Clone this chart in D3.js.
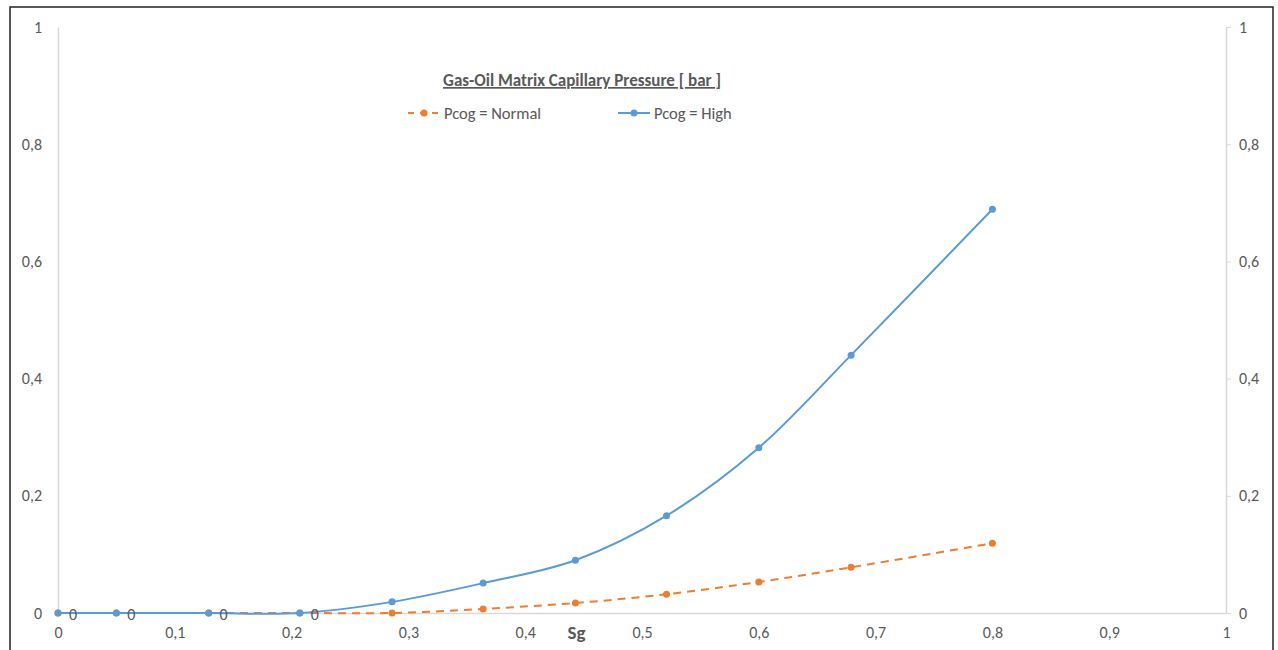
<!DOCTYPE html>
<html>
<head>
<meta charset="utf-8">
<script src="https://cdn.jsdelivr.net/npm/d3@7"></script>
<style>
  body { margin: 0; background: #fff; }
  text { font-family: Calibri, Carlito, 'Open Sans', sans-serif; fill: #595959; }
</style>
</head>
<body>
<div id="chart"></div>
<script>
// data
let sgValues = [0, 0.05, 0.129, 0.207, 0.286, 0.364, 0.443, 0.521, 0.6, 0.679, 0.8];
let pcogNormal = [0, 0, 0, 0, 0, 0.007, 0.017, 0.032, 0.053, 0.078, 0.119];
let pcogHigh = [0, 0, 0, 0, 0.019, 0.051, 0.090, 0.166, 0.282, 0.440, 0.689];
let xTicks = [0, 0.1, 0.2, 0.3, 0.4, 0.5, 0.6, 0.7, 0.8, 0.9, 1];
let yTicks = [0, 0.2, 0.4, 0.6, 0.8, 1];
let labelCount = 4; // first points carry a "0" data label

let svgWidth = 1278;
let svgHeight = 650;

// plot area
let margin = { top: 27, right: 52, bottom: 37, left: 58 };
let width = svgWidth - margin.left - margin.right;
let height = svgHeight - margin.top - margin.bottom;

let svg = d3.select('#chart').append('svg')
  .attr('width', svgWidth)
  .attr('height', svgHeight);

// outer frame
svg.append('rect')
  .attr('x', 10).attr('y', 7)
  .attr('width', 1263).attr('height', 700)
  .attr('fill', 'none')
  .attr('stroke', '#222')
  .attr('stroke-width', 1.5);

let chartGroup = svg.append('g')
  .attr('transform', `translate(${margin.left}, ${margin.top})`);

let xScale = d3.scaleLinear().domain([0, 1]).range([0, width]);
let yScale = d3.scaleLinear().domain([0, 1]).range([height, 0]);

let fmt = d => String(d).replace('.', ',');

// left axis: line only
let leftAxis = chartGroup.append('g')
  .call(d3.axisLeft(yScale).tickValues(yTicks).tickSize(0).tickPadding(16).tickFormat(fmt));
leftAxis.select('.domain').attr('stroke', '#d9d9d9').attr('stroke-width', 1.5);
leftAxis.selectAll('text').attr('font-size', 16).attr('fill', '#595959');

// right axis with outer ticks
let rightAxis = chartGroup.append('g')
  .attr('transform', `translate(${width}, 0)`)
  .call(d3.axisRight(yScale).tickValues(yTicks).tickSizeInner(5).tickSizeOuter(0).tickPadding(8).tickFormat(fmt));
rightAxis.select('.domain').attr('stroke', '#d9d9d9').attr('stroke-width', 1.5);
rightAxis.selectAll('line').attr('stroke', '#d9d9d9');
rightAxis.selectAll('text').attr('font-size', 16).attr('fill', '#595959');

// bottom axis
let bottomAxis = chartGroup.append('g')
  .attr('transform', `translate(0, ${height})`)
  .call(d3.axisBottom(xScale).tickValues(xTicks).tickSize(0).tickPadding(14).tickFormat(fmt));
bottomAxis.select('.domain').attr('stroke', '#d9d9d9').attr('stroke-width', 1.5);
bottomAxis.selectAll('text').attr('font-size', 16).attr('fill', '#595959');

// axis title
chartGroup.append('text')
  .attr('x', xScale(0.444))
  .attr('y', height + 26)
  .attr('text-anchor', 'middle')
  .attr('font-size', 19)
  .attr('font-weight', 'bold')
  .text('Sg');

let normalData = sgValues.map((s, i) => ({ x: s, y: pcogNormal[i] }));
let highData = sgValues.map((s, i) => ({ x: s, y: pcogHigh[i] }));

let line = d3.line()
  .x(d => xScale(d.x))
  .y(d => yScale(d.y))
  .curve(d3.curveCatmullRom.alpha(0.5));

// normal series (dashed orange)
chartGroup.append('path')
  .datum(normalData)
  .attr('d', line)
  .attr('fill', 'none')
  .attr('stroke', '#ed7d31')
  .attr('stroke-width', 2)
  .attr('stroke-dasharray', '8,6');

chartGroup.selectAll('.normalDot')
  .data(normalData)
  .enter()
  .append('circle')
  .attr('cx', d => xScale(d.x))
  .attr('cy', d => yScale(d.y))
  .attr('r', 3.5)
  .attr('fill', '#ed7d31');

// high series (solid blue)
chartGroup.append('path')
  .datum(highData)
  .attr('d', line)
  .attr('fill', 'none')
  .attr('stroke', '#5b9bd5')
  .attr('stroke-width', 2);

chartGroup.selectAll('.highDot')
  .data(highData)
  .enter()
  .append('circle')
  .attr('cx', d => xScale(d.x))
  .attr('cy', d => yScale(d.y))
  .attr('r', 3.5)
  .attr('fill', '#5b9bd5');

// data labels
chartGroup.selectAll('.dataLabel')
  .data(normalData.slice(0, labelCount))
  .enter()
  .append('text')
  .attr('x', d => xScale(d.x) + 15)
  .attr('y', d => yScale(d.y) + 7)
  .attr('text-anchor', 'middle')
  .attr('font-size', 16)
  .text(d => fmt(d.y));

// title
svg.append('text')
  .attr('x', 582)
  .attr('y', 86)
  .attr('text-anchor', 'middle')
  .attr('font-size', 17)
  .attr('font-weight', 'bold')
  .attr('text-decoration', 'underline')
  .text('Gas-Oil Matrix Capillary Pressure [ bar ]');

// legend
let legend = svg.append('g');
let legendItems = [
  { name: 'Pcog = Normal', color: '#ed7d31', dash: '6,6', x: 408 },
  { name: 'Pcog = High', color: '#5b9bd5', dash: null, x: 618 }
];
legendItems.forEach(item => {
  legend.append('line')
    .attr('x1', item.x).attr('x2', item.x + 32)
    .attr('y1', 113).attr('y2', 113)
    .attr('stroke', item.color)
    .attr('stroke-width', 2)
    .attr('stroke-dasharray', item.dash);
  legend.append('circle')
    .attr('cx', item.x + 16).attr('cy', 113)
    .attr('r', 3.5)
    .attr('fill', item.color);
  legend.append('text')
    .attr('x', item.x + 36)
    .attr('y', 119)
    .attr('font-size', 16.5)
    .text(item.name);
});
</script>
</body>
</html>
